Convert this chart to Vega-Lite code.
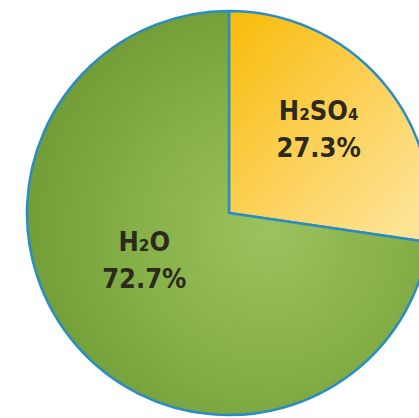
{
  "$schema": "https://vega.github.io/schema/vega-lite/v6.json",
  "width": 380,
  "height": 410,
  "autosize": {"type": "none"},
  "padding": {"left": 39, "top": 8, "right": 0, "bottom": 0},
  "background": "white",
  "view": {"stroke": null},
  "data": {
    "values": [
      {"chem": "H₂SO₄", "percent": 27.3, "label": "H₂SO₄\n27.3%"},
      {"chem": "H₂O", "percent": 72.7, "label": "H₂O\n72.7%"}
    ]
  },
  "encoding": {
    "theta": {"field": "percent", "type": "quantitative", "stack": true},
    "order": {"field": "percent", "type": "quantitative", "sort": "ascending"},
    "detail": {"field": "chem"}
  },
  "layer": [
    {
      "mark": {"type": "arc", "radius": 202, "stroke": "#2a8cc4", "strokeWidth": 2.5, "strokeJoin": "round"},
      "encoding": {
        "fill": {
          "condition": {
            "test": "datum.percent < 50",
            "value": {
              "gradient": "linear", "x1": 0.05, "y1": 0.0, "x2": 0.9, "y2": 0.9,
              "stops": [
                {"offset": 0, "color": "#f8bc0c"},
                {"offset": 0.5, "color": "#fccf52"},
                {"offset": 1, "color": "#fde394"}
              ]
            }
          },
          "value": {
            "gradient": "radial", "x1": 0.6, "y1": 0.55, "r1": 0, "x2": 0.6, "y2": 0.55, "r2": 0.65,
            "stops": [
              {"offset": 0, "color": "#9cc25f"},
              {"offset": 0.5, "color": "#86b048"},
              {"offset": 1, "color": "#6f9a34"}
            ]
          }
        }
      }
    },
    {
      "mark": {
        "type": "text", "radius": 112, "lineBreak": "\n", "lineHeight": 37,
        "font": "DejaVu Sans Condensed", "fontWeight": "bold", "fontSize": 27,
        "fill": "#2b2a1c", "align": "center", "baseline": "middle",
        "dx": {"expr": "datum.percent < 50 ? 5 : 0"},
        "dy": {"expr": "datum.percent < 50 ? -28 : -43"}
      },
      "encoding": {
        "text": {"field": "label"}
      }
    }
  ]
}
